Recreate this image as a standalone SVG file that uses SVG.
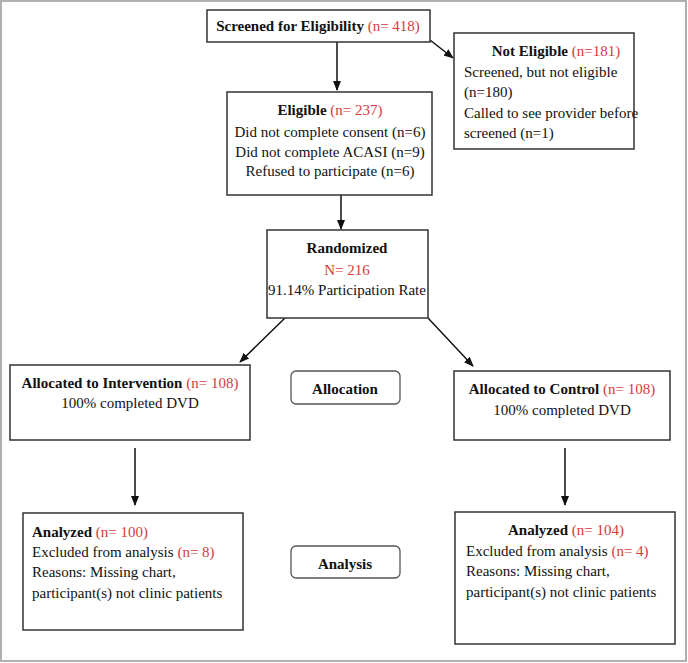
<svg xmlns="http://www.w3.org/2000/svg" width="688" height="663" viewBox="0 0 688 663">
<style>
.box{fill:#fff;stroke:#333;stroke-width:1.5}
.rbox{fill:#fff;stroke:#555;stroke-width:1.3}
.t{font-family:"Liberation Serif","Times New Roman",serif;font-size:15px;fill:#111}
.b{font-weight:bold}
.r{fill:#d63b3b;font-weight:normal}
.m{text-anchor:middle}
.c{stroke:#111;stroke-width:1.5;fill:none;marker-end:url(#ah)}
</style>
<defs>
<marker id="ah" markerWidth="10" markerHeight="10" refX="9" refY="5" orient="auto" markerUnits="userSpaceOnUse">
<path d="M0,1 L10,5 L0,9 Z" fill="#111"/>
</marker>
</defs>
<rect x="0" y="0" width="688" height="663" fill="#fff"/>
<rect x="1" y="1" width="685" height="660" fill="none" stroke="#b0b0b0" stroke-width="2"/>
<g id="connectors">
<line class="c" x1="337" y1="42" x2="337" y2="90"/>
<line class="c" x1="430" y1="40" x2="453" y2="58"/>
<line class="c" x1="341" y1="195" x2="341" y2="229"/>
<line class="c" x1="285" y1="318" x2="240" y2="362"/>
<line class="c" x1="428" y1="318" x2="473" y2="366"/>
<line class="c" x1="135" y1="448" x2="135" y2="505"/>
<line class="c" x1="565" y1="448" x2="565" y2="505"/>
</g>
<g id="screened">
<rect class="box" x="207" y="10" width="223" height="32"/>
<text class="t b m" x="318" y="31">Screened for Eligibility <tspan class="r">(n= 418)</tspan></text>
</g>
<g id="noteligible">
<rect class="box" x="454" y="33" width="180" height="116"/>
<text class="t b m" x="556" y="56">Not Eligible <tspan class="r">(n=181)</tspan></text>
<text class="t" x="464" y="77">Screened, but not eligible</text>
<text class="t" x="464" y="97">(n=180)</text>
<text class="t" x="464" y="118">Called to see provider before</text>
<text class="t" x="464" y="138">screened (n=1)</text>
</g>
<g id="eligible">
<rect class="box" x="227" y="92" width="205" height="103"/>
<text class="t b m" x="330" y="115">Eligible <tspan class="r">(n= 237)</tspan></text>
<text class="t m" x="330" y="137">Did not complete consent (n=6)</text>
<text class="t m" x="330" y="157">Did not complete ACASI (n=9)</text>
<text class="t m" x="330" y="176">Refused to participate (n=6)</text>
</g>
<g id="randomized">
<rect class="box" x="267" y="230" width="161" height="88"/>
<text class="t b m" x="347" y="253">Randomized</text>
<text class="t m r" x="347" y="275">N= 216</text>
<text class="t m" x="347" y="295">91.14% Participation Rate</text>
</g>
<g id="intervention">
<rect class="box" x="10" y="365" width="240" height="75"/>
<text class="t b m" x="130" y="388">Allocated to Intervention <tspan class="r">(n= 108)</tspan></text>
<text class="t m" x="130" y="408">100% completed DVD</text>
</g>
<g id="allocation">
<rect class="rbox" x="291" y="371" width="109" height="33" rx="5"/>
<text class="t b m" x="345" y="394">Allocation</text>
</g>
<g id="control">
<rect class="box" x="454" y="371" width="216" height="69"/>
<text class="t b m" x="562" y="394">Allocated to Control <tspan class="r">(n= 108)</tspan></text>
<text class="t m" x="562" y="415">100% completed DVD</text>
</g>
<g id="analyzed-left">
<rect class="box" x="23" y="513" width="220" height="117"/>
<text class="t b" x="32" y="537">Analyzed <tspan class="r">(n= 100)</tspan></text>
<text class="t" x="32" y="557">Excluded from analysis <tspan class="r">(n= 8)</tspan></text>
<text class="t" x="32" y="577">Reasons: Missing chart,</text>
<text class="t" x="32" y="598">participant(s) not clinic patients</text>
</g>
<g id="analysis">
<rect class="rbox" x="291" y="546" width="109" height="32" rx="5"/>
<text class="t b m" x="345" y="569">Analysis</text>
</g>
<g id="analyzed-right">
<rect class="box" x="455" y="512" width="220" height="132"/>
<text class="t b m" x="566" y="535">Analyzed <tspan class="r">(n= 104)</tspan></text>
<text class="t" x="466" y="556">Excluded from analysis <tspan class="r">(n= 4)</tspan></text>
<text class="t" x="466" y="576">Reasons: Missing chart,</text>
<text class="t" x="466" y="597">participant(s) not clinic patients</text>
</g>
</svg>
